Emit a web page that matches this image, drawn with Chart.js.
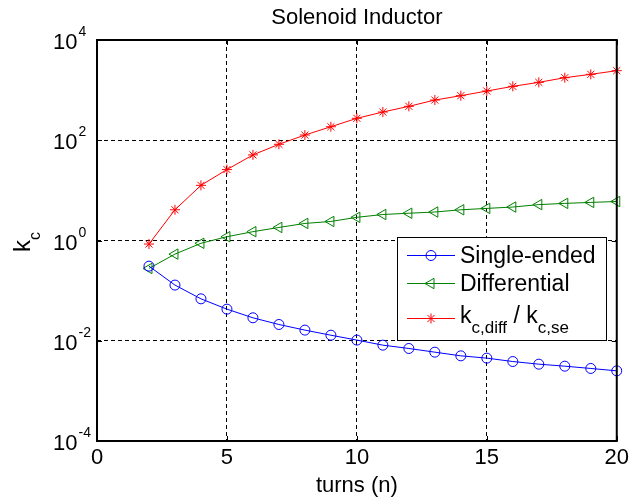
<!DOCTYPE html>
<html>
<head>
<meta charset="utf-8">
<script src="https://cdn.jsdelivr.net/npm/chart.js@4/dist/chart.umd.min.js"></script>
<style>
  html, body { margin: 0; padding: 0; background: #ffffff; }
  canvas { display: block; }
</style>
</head>
<body>
<canvas id="c" width="635" height="499"></canvas>
<script>
// Coupling coefficient of a solenoid inductor versus number of turns
const turns = [2, 3, 4, 5, 6, 7, 8, 9, 10, 11, 12, 13, 14, 15, 16, 17, 18, 19, 20];
const singleEnded = [0.308, 0.129, 0.0686, 0.0427, 0.0287, 0.0211, 0.0163, 0.0129, 0.0103,
                     0.00817, 0.00701, 0.00592, 0.00500, 0.00450, 0.00385, 0.00341, 0.00311, 0.00280, 0.00251];
const differential = [0.277, 0.535, 0.88, 1.19, 1.50, 1.82, 2.19, 2.40, 2.90,
                      3.30, 3.50, 3.70, 4.10, 4.37, 4.65, 5.20, 5.50, 5.75, 6.00];
const ratio = [0.85, 4.1, 12.6, 26, 51, 83, 127, 186, 274,
               366, 475, 634, 774, 959, 1189, 1429, 1770, 2065, 2443];

const xTicks = [0, 5, 10, 15, 20];
const yTicks = [1e-4, 1e-2, 1, 1e2, 1e4];
const yTickExponents = ['-4', '-2', '0', '2', '4'];

const titleText = 'Solenoid Inductor';
const xTitle = 'turns (n)';
const yTitleParts = [{ t: 'k', sub: false }, { t: 'c', sub: true }];
const ratioLabelParts = [
  { t: 'k', sub: false }, { t: 'c,diff', sub: true },
  { t: ' / k', sub: false }, { t: 'c,se', sub: true }
];

const FONT = '"Liberation Sans", Arial, Helvetica, sans-serif';

function points(values) {
  return turns.map((n, i) => ({ x: n, y: values[i] }));
}

// Mixed-size text run (subscripts dropped below the baseline)
function drawRuns(ctx, parts, x, y, mainSize, subSize, subDrop) {
  let cx = x;
  for (const p of parts) {
    const size = p.sub ? subSize : mainSize;
    ctx.font = size + 'px ' + FONT;
    ctx.fillText(p.t, cx, y + (p.sub ? subDrop : 0));
    cx += ctx.measureText(p.t).width;
  }
  return cx - x;
}
function runsWidth(ctx, parts, mainSize, subSize) {
  let w = 0;
  for (const p of parts) {
    ctx.font = (p.sub ? subSize : mainSize) + 'px ' + FONT;
    w += ctx.measureText(p.t).width;
  }
  return w;
}

function drawMarker(ctx, ds, x, y) {
  ctx.save();
  ctx.strokeStyle = ds.pointBorderColor;
  ctx.fillStyle = 'rgba(0,0,0,0)';
  ctx.lineWidth = 1;
  Chart.helpers.drawPoint(ctx, {
    pointStyle: ds.pointStyle,
    rotation: ds.pointRotation || 0,
    radius: ds.pointRadius,
    borderWidth: 1
  }, x, y);
  ctx.restore();
}

const axesFrame = {
  id: 'axesFrame',
  beforeDraw(chart) {
    const ctx = chart.ctx;
    ctx.save();
    ctx.fillStyle = '#ffffff';
    ctx.fillRect(0, 0, chart.width, chart.height);
    ctx.restore();
  },
  afterDatasetsDraw(chart) {
    const ctx = chart.ctx;
    const a = chart.chartArea;
    const xs = chart.scales.x, ys = chart.scales.y;
    ctx.save();
    ctx.strokeStyle = '#000000';

    // inward tick marks on all four sides
    ctx.lineWidth = 1;
    ctx.beginPath();
    for (const v of xTicks) {
      const px = Math.round(xs.getPixelForValue(v)) + 0.5;
      ctx.moveTo(px, a.bottom); ctx.lineTo(px, a.bottom - 5);
      ctx.moveTo(px, a.top); ctx.lineTo(px, a.top + 5);
    }
    for (const v of yTicks) {
      const py = Math.round(ys.getPixelForValue(v)) + 0.5;
      ctx.moveTo(a.left, py); ctx.lineTo(a.left + 5, py);
      ctx.moveTo(a.right, py); ctx.lineTo(a.right - 5, py);
    }
    ctx.stroke();

    // axes box
    ctx.lineWidth = 2;
    ctx.strokeRect(a.left, a.top, a.right - a.left, a.bottom - a.top);

    // y tick labels: 10 with exponent
    ctx.fillStyle = '#000000';
    ctx.textAlign = 'left';
    ctx.textBaseline = 'alphabetic';
    yTicks.forEach((v, i) => {
      const py = ys.getPixelForValue(v);
      ctx.font = '22px ' + FONT;
      ctx.fillText('10', 53, py + 9);
      const w = ctx.measureText('10').width;
      ctx.font = '14px ' + FONT;
      ctx.fillText(yTickExponents[i], 53 + w + 1, py - 4);
    });

    // y axis title, rotated
    ctx.save();
    ctx.translate(30, 242);
    ctx.rotate(-Math.PI / 2);
    const yw = runsWidth(ctx, yTitleParts, 24, 16);
    drawRuns(ctx, yTitleParts, -yw / 2, 0, 24, 16, 10);
    ctx.restore();

    // plot title centred over the axes
    ctx.font = '22px ' + FONT;
    ctx.textAlign = 'center';
    ctx.fillText(titleText, (a.left + a.right) / 2, 24);
    ctx.restore();
  },
  afterDraw(chart) {
    const ctx = chart.ctx;
    const box = { x: 397.5, y: 237.5, w: 209, h: 103 };
    ctx.save();
    ctx.fillStyle = '#ffffff';
    ctx.fillRect(box.x, box.y, box.w, box.h);
    ctx.strokeStyle = '#000000';
    ctx.lineWidth = 1;
    ctx.strokeRect(box.x, box.y, box.w, box.h);

    const rowY = [255, 283, 318];
    const baseY = [263, 291, 323];
    chart.data.datasets.forEach((ds, i) => {
      const y = rowY[i] + 0.5;
      ctx.strokeStyle = ds.borderColor;
      ctx.lineWidth = 1;
      ctx.beginPath();
      ctx.moveTo(407, y); ctx.lineTo(455, y);
      ctx.stroke();
      drawMarker(ctx, ds, 431, y);
      ctx.fillStyle = '#000000';
      ctx.textAlign = 'left';
      ctx.textBaseline = 'alphabetic';
      if (i === 2) {
        drawRuns(ctx, ratioLabelParts, 460, baseY[i], 23, 17, 10);
      } else {
        ctx.font = '23px ' + FONT;
        ctx.fillText(ds.label, 460, baseY[i]);
      }
    });
    ctx.restore();
  }
};

new Chart(document.getElementById('c'), {
  type: 'line',
  data: {
    datasets: [
      {
        label: 'Single-ended',
        data: points(singleEnded),
        borderColor: '#0000ff', backgroundColor: 'rgba(0,0,0,0)', borderWidth: 1,
        pointStyle: 'circle', pointRadius: 5, pointBorderWidth: 1,
        pointBorderColor: '#0000ff', pointBackgroundColor: 'rgba(0,0,0,0)',
        tension: 0, clip: false
      },
      {
        label: 'Differential',
        data: points(differential),
        borderColor: '#008000', backgroundColor: 'rgba(0,0,0,0)', borderWidth: 1,
        pointStyle: 'triangle', pointRotation: -90, pointRadius: 6, pointBorderWidth: 1,
        pointBorderColor: '#008000', pointBackgroundColor: 'rgba(0,0,0,0)',
        tension: 0, clip: false
      },
      {
        label: 'kc,diff / kc,se',
        data: points(ratio),
        borderColor: '#ff0000', backgroundColor: 'rgba(0,0,0,0)', borderWidth: 1,
        pointStyle: 'star', pointRadius: 5, pointBorderWidth: 1,
        pointBorderColor: '#ff0000', pointBackgroundColor: 'rgba(0,0,0,0)',
        tension: 0, clip: false
      }
    ]
  },
  options: {
    responsive: false,
    animation: false,
    devicePixelRatio: 1,
    layout: { padding: { left: 97, right: 13, top: 40, bottom: 0 } },
    plugins: {
      legend: { display: false },
      title: { display: false },
      tooltip: { enabled: false }
    },
    scales: {
      x: {
        type: 'linear', min: 0, max: 20,
        afterBuildTicks: (s) => { s.ticks = xTicks.map(v => ({ value: v })); },
        grid: { color: '#000000', lineWidth: 1, drawTicks: false },
        border: { display: false, dash: [4, 3] },
        ticks: {
          color: '#000000', padding: 6, maxRotation: 0, autoSkip: false,
          font: { family: FONT, size: 22, lineHeight: 1 }
        },
        title: {
          display: true, text: xTitle, color: '#000000',
          font: { family: FONT, size: 22, lineHeight: 1 },
          padding: { top: 0, bottom: 2 }
        }
      },
      y: {
        type: 'logarithmic', min: 1e-4, max: 1e4,
        afterBuildTicks: (s) => { s.ticks = yTicks.map(v => ({ value: v })); },
        grid: { color: '#000000', lineWidth: 1, drawTicks: false },
        border: { display: false, dash: [4, 3] },
        ticks: { display: false }
      }
    }
  },
  plugins: [axesFrame]
});
</script>
</body>
</html>
